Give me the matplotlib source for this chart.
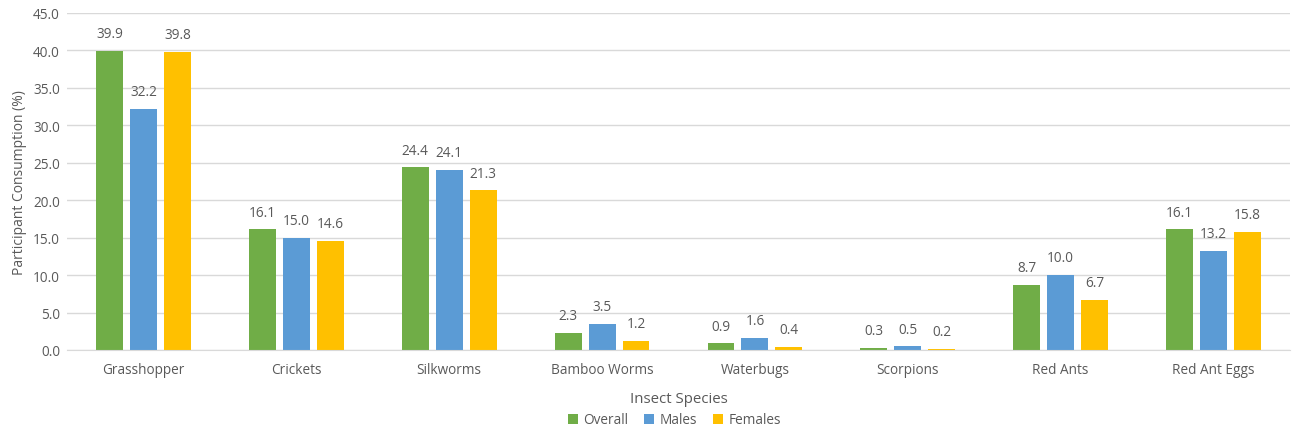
import matplotlib
matplotlib.use("Agg")
import matplotlib.pyplot as plt
import numpy as np

categories = ["Grasshopper", "Crickets", "Silkworms", "Bamboo Worms",
              "Waterbugs", "Scorpions", "Red Ants", "Red Ant Eggs"]
overall = [39.9, 16.1, 24.4, 2.3, 0.9, 0.3, 8.7, 16.1]
males = [32.2, 15.0, 24.1, 3.5, 1.6, 0.5, 10.0, 13.2]
females = [39.8, 14.6, 21.3, 1.2, 0.4, 0.2, 6.7, 15.8]
series_names = ["Overall", "Males", "Females"]
colors = ["#70AD47", "#5B9BD5", "#FFC000"]

plt.rcParams["font.family"] = ["Open Sans", "DejaVu Sans"]
text_color = "#595959"

fig = plt.figure(figsize=(12.97, 4.35), dpi=100)
ax = fig.add_axes([67 / 1297, 1 - 351 / 435, (1290 - 67) / 1297, (351 - 14) / 435])

x = np.arange(len(categories))
width = 0.176
step = 0.222
for i, (vals, name, col) in enumerate(zip([overall, males, females], series_names, colors)):
    pos = x + (i - 1) * step
    bars = ax.bar(pos, vals, width=width, color=col, label=name, zorder=3)
    for b, v in zip(bars, vals):
        ax.annotate(f"{v:.1f}", (b.get_x() + b.get_width() / 2, v),
                    xytext=(0, 7), textcoords="offset points",
                    ha="center", va="bottom", fontsize=9.8, color=text_color)

ax.set_xlim(-0.5, len(categories) - 0.5)
ax.set_ylim(0, 45)
ax.set_yticks(np.arange(0, 45.1, 5))
ax.set_yticklabels([f"{t:.1f}" for t in np.arange(0, 45.1, 5)])
ax.set_xticks(x)
ax.set_xticklabels(categories)
ax.tick_params(axis="both", length=0, labelsize=9.8, colors=text_color)
ax.tick_params(axis="x", pad=9)
ax.tick_params(axis="y", pad=5)
ax.grid(axis="y", color="#D9D9D9", linewidth=1, zorder=0)
for s in ["top", "right", "left"]:
    ax.spines[s].set_visible(False)
ax.spines["bottom"].set_color("#D9D9D9")
ax.spines["bottom"].set_zorder(4)

ax.set_ylabel("Participant Consumption (%)", fontsize=10, color=text_color, labelpad=4)
ax.set_xlabel("Insect Species", fontsize=10.8, color=text_color, labelpad=10)

fig.legend(loc="center", bbox_to_anchor=(0.52, 1 - 421 / 435), ncol=3, frameon=False,
           fontsize=9.8, handlelength=0.7, handleheight=0.7, handletextpad=0.4,
           columnspacing=1.2, labelcolor=text_color)

fig.savefig("out.png", dpi=100, facecolor="white")
